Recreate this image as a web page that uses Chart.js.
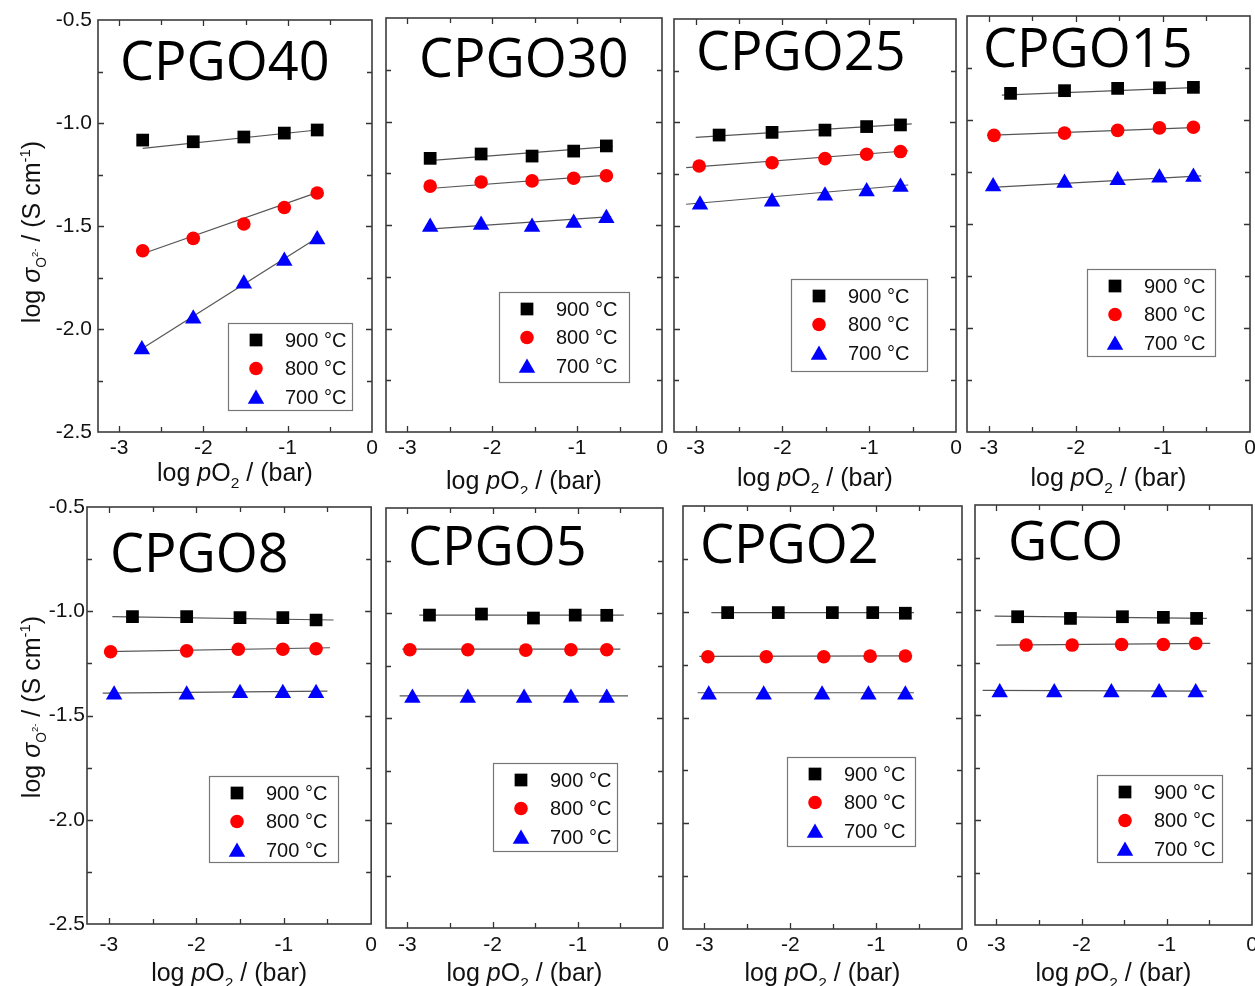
<!DOCTYPE html>
<html>
<head>
<meta charset="utf-8">
<script src="https://cdn.jsdelivr.net/npm/chart.js@4.4.1/dist/chart.umd.min.js"></script>
<style>
  html, body { margin: 0; padding: 0; background: #fff; width: 1255px; height: 986px; overflow: hidden; }
  #wrap { position: relative; width: 1255px; height: 986px; }
  canvas { position: absolute; }
</style>
</head>
<body>
<div id="wrap"></div>
<script>
const sampleNames = ['CPGO40', 'CPGO30', 'CPGO25', 'CPGO15', 'CPGO8', 'CPGO5', 'CPGO2', 'GCO'];
const tempLabels = ['900 \u00B0C', '800 \u00B0C', '700 \u00B0C'];
const xTickValues = [-3, -2.5, -2, -1.5, -1, -0.5, 0];
const yTickValues = [-2.5, -2.25, -2, -1.75, -1.5, -1.25, -1, -0.75, -0.5];

// log pO2 (bar) per sample, rows: 900, 800, 700 °C
const pO2_CPGO40 = [[-2.72, -2.12, -1.52, -1.04, -0.65], [-2.72, -2.12, -1.52, -1.04, -0.65], [-2.73, -2.12, -1.52, -1.04, -0.65]];
const pO2_CPGO30 = [[-2.73, -2.13, -1.53, -1.04, -0.655], [-2.73, -2.13, -1.53, -1.04, -0.655], [-2.73, -2.13, -1.53, -1.04, -0.655]];
const pO2_CPGO25 = [[-2.73, -2.12, -1.51, -1.03, -0.64], [-2.96, -2.12, -1.51, -1.03, -0.64], [-2.95, -2.12, -1.51, -1.03, -0.64]];
const pO2_CPGO15 = [[-2.75, -2.13, -1.52, -1.04, -0.65], [-2.94, -2.13, -1.52, -1.04, -0.65], [-2.95, -2.13, -1.52, -1.04, -0.65]];
const pO2_CPGO8  = [[-2.73, -2.11, -1.50, -1.01, -0.63], [-2.98, -2.11, -1.52, -1.01, -0.63], [-2.94, -2.11, -1.50, -1.01, -0.63]];
const pO2_CPGO5  = [[-2.74, -2.13, -1.52, -1.03, -0.66], [-2.97, -2.29, -1.61, -1.08, -0.66], [-2.94, -2.29, -1.63, -1.08, -0.66]];
const pO2_CPGO2  = [[-2.73, -2.14, -1.51, -1.04, -0.66], [-2.96, -2.28, -1.61, -1.07, -0.66], [-2.95, -2.31, -1.63, -1.09, -0.66]];
const pO2_GCO    = [[-2.75, -2.13, -1.52, -1.04, -0.65], [-2.65, -2.11, -1.53, -1.04, -0.66], [-2.96, -2.32, -1.65, -1.09, -0.66]];

// log sigma (S/cm) per sample, rows: 900, 800, 700 °C
const sig_CPGO40 = [[-1.083, -1.091, -1.068, -1.049, -1.034], [-1.62, -1.56, -1.49, -1.41, -1.34], [-2.10, -1.95, -1.78, -1.67, -1.565]];
const sig_CPGO30 = [[-1.178, -1.157, -1.167, -1.143, -1.118], [-1.312, -1.292, -1.287, -1.274, -1.262], [-1.51, -1.50, -1.51, -1.49, -1.467]];
const sig_CPGO25 = [[-1.062, -1.049, -1.038, -1.021, -1.013], [-1.212, -1.196, -1.176, -1.155, -1.142], [-1.40, -1.385, -1.356, -1.335, -1.314]];
const sig_CPGO15 = [[-0.872, -0.859, -0.848, -0.845, -0.843], [-1.074, -1.063, -1.05, -1.038, -1.035], [-1.32, -1.303, -1.29, -1.278, -1.274]];
const sig_CPGO8  = [[-1.026, -1.026, -1.031, -1.031, -1.042], [-1.194, -1.19, -1.182, -1.182, -1.18], [-1.40, -1.40, -1.393, -1.393, -1.393]];
const sig_CPGO5  = [[-1.01, -1.005, -1.024, -1.01, -1.011], [-1.175, -1.175, -1.177, -1.175, -1.175], [-1.405, -1.405, -1.405, -1.405, -1.405]];
const sig_CPGO2  = [[-1.004, -1.004, -1.004, -1.004, -1.007], [-1.213, -1.213, -1.213, -1.21, -1.209], [-1.393, -1.393, -1.393, -1.393, -1.393]];
const sig_GCO    = [[-1.032, -1.040, -1.032, -1.035, -1.040], [-1.167, -1.167, -1.164, -1.164, -1.159], [-1.393, -1.393, -1.393, -1.393, -1.393]];

// linear fit end points [x0, y0, x1, y1], rows: 900, 800, 700 °C
const fit_CPGO40 = [[-2.72, -1.123, -0.65, -1.034], [-2.73, -1.636, -0.62, -1.333], [-2.73, -2.096, -0.62, -1.55]];
const fit_CPGO30 = [[-2.78, -1.19, -0.58, -1.12], [-2.78, -1.325, -0.60, -1.258], [-2.75, -1.52, -0.60, -1.46]];
const fit_CPGO25 = [[-3.0, -1.073, -0.51, -1.008], [-3.11, -1.22, -0.55, -1.138], [-3.11, -1.397, -0.55, -1.304]];
const fit_CPGO15 = [[-2.85, -0.88, -0.58, -0.843], [-3.02, -1.074, -0.58, -1.035], [-3.02, -1.325, -0.56, -1.269]];
const fit_CPGO8  = [[-2.96, -1.026, -0.43, -1.042], [-3.03, -1.194, -0.47, -1.175], [-3.07, -1.393, -0.50, -1.383]];
const fit_CPGO5  = [[-2.86, -1.01, -0.46, -1.01], [-3.06, -1.172, -0.50, -1.172], [-3.09, -1.395, -0.41, -1.395]];
const fit_CPGO2  = [[-2.92, -1.004, -0.56, -1.004], [-3.06, -1.211, -0.58, -1.209], [-3.08, -1.383, -0.56, -1.383]];
const fit_GCO    = [[-3.02, -1.029, -0.53, -1.040], [-3.0, -1.167, -0.49, -1.159], [-3.16, -1.383, -0.53, -1.386]];

const pO2Sets = [pO2_CPGO40, pO2_CPGO30, pO2_CPGO25, pO2_CPGO15, pO2_CPGO8, pO2_CPGO5, pO2_CPGO2, pO2_GCO];
const sigSets = [sig_CPGO40, sig_CPGO30, sig_CPGO25, sig_CPGO15, sig_CPGO8, sig_CPGO5, sig_CPGO2, sig_GCO];
const fitSets = [fit_CPGO40, fit_CPGO30, fit_CPGO25, fit_CPGO15, fit_CPGO8, fit_CPGO5, fit_CPGO2, fit_GCO];

const markerStyles = [
  { pointStyle: 'rect', radius: 9, color: '#000000' },
  { pointStyle: 'circle', radius: 6.8, color: '#ff0000' },
  { pointStyle: 'triangle', radius: 9.5, color: '#0000ff' }
];

// frame of each plot on the page: [left, top, right, bottom]; other offsets are relative to the frame
const layouts = [
  { box: [98, 20, 372, 432],   name: [22, 60], legend: [130, 303, 124, 87], xTitle: 40, tickPad: 4, yPad: 6, yTitle: [31, 232] },
  { box: [386, 18, 662, 432],  name: [33, 59], legend: [113, 274, 130, 90], xTitle: 48, tickPad: 4 },
  { box: [674, 19, 956, 432],  name: [22, 51], legend: [117, 260, 136, 92], xTitle: 45, tickPad: 4 },
  { box: [967, 16, 1250, 432], name: [16, 51], legend: [120, 253, 128, 87], xTitle: 45, tickPad: 4 },
  { box: [87, 507, 372, 924],  name: [23, 65], legend: [122, 269, 129, 86], xTitle: 48, tickPad: 9, yPad: 2, yTitle: [31, 707] },
  { box: [386, 508, 663, 928], name: [22, 57], legend: [107, 255, 124, 88], xTitle: 44, tickPad: 5 },
  { box: [683, 506, 962, 929], name: [17, 57], legend: [104, 251, 128, 89], xTitle: 43, tickPad: 4 },
  { box: [975, 505, 1252, 925], name: [33, 55], legend: [122, 270, 125, 87], xTitle: 47, tickPad: 8 }
];

const SANS = '"Liberation Sans", Arial, sans-serif';

// writes a label made of runs (italic, sub/superscript) centred on (cx, cy)
function drawRich(ctx, parts, cx, cy, angle, size) {
  const runs = parts.map(([text, kind]) => {
    let scale = 1, dy = 0, italic = false;
    if (kind === 'i') italic = true;
    if (kind === 'sub') { scale = 0.62; dy = 0.28 * size; }
    if (kind === 'subO') { scale = 0.55; dy = 0.25 * size; }
    if (kind === 'subsup') { scale = 0.38; dy = -0.1 * size; }
    if (kind === 'sup') { scale = 0.6; dy = -0.4 * size; }
    const font = (italic ? 'italic ' : '') + (size * scale).toFixed(1) + 'px ' + SANS;
    ctx.font = font;
    return { text, font, dy, w: ctx.measureText(text).width };
  });
  const total = runs.reduce((s, r) => s + r.w, 0);
  ctx.save();
  ctx.translate(cx, cy);
  ctx.rotate(angle);
  ctx.textBaseline = 'alphabetic';
  ctx.textAlign = 'left';
  let x = -total / 2;
  runs.forEach(r => {
    ctx.font = r.font;
    ctx.fillText(r.text, x, size * 0.36 + r.dy);
    x += r.w;
  });
  ctx.restore();
}

const xTitleParts = [['log ', 'n'], ['p', 'i'], ['O', 'n'], ['2', 'sub'], [' / (bar)', 'n']];
const yTitleParts = [['log ', 'n'], ['\u03C3', 'i'], ['O', 'subO'], ['2-', 'subsup'], [' / (S cm', 'n'], ['-1', 'sup'], [')', 'n']];

function panelDeco(L, idx, canvasTop) {
  return {
    id: 'panelDeco',
    afterDatasetsDraw(chart) {
      const { ctx, chartArea: a } = chart;
      const xs = chart.scales.x, ys = chart.scales.y;
      ctx.save();

      // tick marks pointing inwards on all four sides
      ctx.strokeStyle = '#333';
      ctx.lineWidth = 1.3;
      ctx.beginPath();
      xs.ticks.forEach(t => {
        const px = Math.round(xs.getPixelForValue(t.value)) + 0.5;
        if (px <= a.left + 1 || px >= a.right - 1) return;
        const len = Number.isInteger(t.value) ? 6 : 5;
        ctx.moveTo(px, a.bottom); ctx.lineTo(px, a.bottom - len);
        ctx.moveTo(px, a.top); ctx.lineTo(px, a.top + len);
      });
      ys.ticks.forEach(t => {
        const py = Math.round(ys.getPixelForValue(t.value)) + 0.5;
        if (py <= a.top + 1 || py >= a.bottom - 1) return;
        const len = Math.abs(t.value * 2 - Math.round(t.value * 2)) < 1e-9 ? 6 : 5;
        ctx.moveTo(a.left, py); ctx.lineTo(a.left + len, py);
        ctx.moveTo(a.right, py); ctx.lineTo(a.right - len, py);
      });
      ctx.stroke();

      // plot frame
      ctx.lineWidth = 1.6;
      ctx.strokeStyle = '#3c3c3c';
      ctx.strokeRect(a.left, a.top, a.right - a.left, a.bottom - a.top);

      // sample name
      ctx.fillStyle = '#000';
      ctx.font = '400 54px "Open Sans", "Noto Sans", sans-serif';
      ctx.textBaseline = 'alphabetic';
      ctx.textAlign = 'left';
      ctx.fillText(sampleNames[idx], a.left + L.name[0], a.top + L.name[1]);

      // legend box
      const [lx, ly, lw, lh] = L.legend;
      const bx = a.left + lx, by = a.top + ly;
      ctx.fillStyle = '#fff';
      ctx.fillRect(bx, by, lw, lh);
      ctx.lineWidth = 1.2;
      ctx.strokeStyle = '#777';
      ctx.strokeRect(bx + 0.5, by + 0.5, lw, lh);
      tempLabels.forEach((label, k) => {
        const m = markerStyles[k];
        const cy = by + 17 + 28.5 * k;
        ctx.fillStyle = m.color;
        Chart.helpers.drawPoint(ctx, { pointStyle: m.pointStyle, radius: m.radius, rotation: 0, borderWidth: 0 }, bx + 28, cy + (m.pointStyle === 'triangle' ? 2 : 0));
        ctx.fillStyle = '#111';
        ctx.font = '20px ' + SANS;
        ctx.textBaseline = 'middle';
        ctx.fillText(label, bx + 57, cy + 1);
      });

      // axis titles
      ctx.fillStyle = '#111';
      drawRich(ctx, xTitleParts, (a.left + a.right) / 2, a.bottom + L.xTitle, 0, 25);
      if (L.yTitle) {
        drawRich(ctx, yTitleParts, L.yTitle[0], L.yTitle[1] - canvasTop, -Math.PI / 2, 25);
      }
      ctx.restore();
    }
  };
}

const wrap = document.getElementById('wrap');

layouts.forEach((L, idx) => {
  const [bl, bt, br, bb] = L.box;
  const firstCol = !!L.yTitle;
  const canvasTop = idx < 4 ? 0 : 488;
  const padL = firstCol ? bl : 12;
  const padT = bt - canvasTop;
  const padR = 14;
  const padB = 62;

  const canvas = document.createElement('canvas');
  canvas.width = (br - bl) + padL + padR;
  canvas.height = (bb - bt) + padT + padB;
  canvas.style.left = (bl - padL) + 'px';
  canvas.style.top = canvasTop + 'px';
  wrap.appendChild(canvas);

  const pO2 = pO2Sets[idx], sig = sigSets[idx], fit = fitSets[idx];

  const fitLines = fit.map((f, k) => ({
    type: 'line',
    label: 'fit ' + tempLabels[k],
    data: [{ x: f[0], y: f[1] }, { x: f[2], y: f[3] }],
    borderColor: '#555',
    borderWidth: 1.2,
    pointRadius: 0,
    fill: false,
    order: 2
  }));

  const points = markerStyles.map((m, k) => ({
    type: 'scatter',
    label: tempLabels[k],
    data: pO2[k].map((x, j) => ({ x, y: sig[k][j] })),
    pointStyle: m.pointStyle,
    pointRadius: m.radius,
    pointHoverRadius: m.radius,
    backgroundColor: m.color,
    borderColor: m.color,
    borderWidth: 0,
    order: 1
  }));

  new Chart(canvas.getContext('2d'), {
    type: 'scatter',
    data: { datasets: [...fitLines, ...points] },
    options: {
      responsive: false,
      animation: false,
      layout: { padding: { top: padT, right: padR, left: 0, bottom: 0 } },
      plugins: { legend: { display: false }, tooltip: { enabled: false }, title: { display: false } },
      scales: {
        x: {
          type: 'linear',
          min: -3.25,
          max: 0,
          afterBuildTicks: s => { s.ticks = xTickValues.map(v => ({ value: v })); },
          afterFit: s => { s.height = padB; },
          grid: { display: false, drawTicks: false },
          border: { display: false },
          ticks: {
            autoSkip: false,
            maxRotation: 0,
            padding: L.tickPad,
            color: '#111',
            font: { family: SANS, size: 21 },
            callback: v => Number.isInteger(v) ? String(v) : ''
          }
        },
        y: {
          type: 'linear',
          min: -2.5,
          max: -0.5,
          afterBuildTicks: s => { s.ticks = yTickValues.map(v => ({ value: v })); },
          afterFit: s => { s.width = padL; },
          grid: { display: false, drawTicks: false },
          border: { display: false },
          ticks: {
            display: firstCol,
            autoSkip: false,
            padding: L.yPad || 4,
            color: '#111',
            font: { family: SANS, size: 21 },
            callback: v => Math.abs(v * 2 - Math.round(v * 2)) < 1e-9 ? v.toFixed(1) : ''
          }
        }
      }
    },
    plugins: [panelDeco(L, idx, canvasTop)]
  });
});
</script>
</body>
</html>
